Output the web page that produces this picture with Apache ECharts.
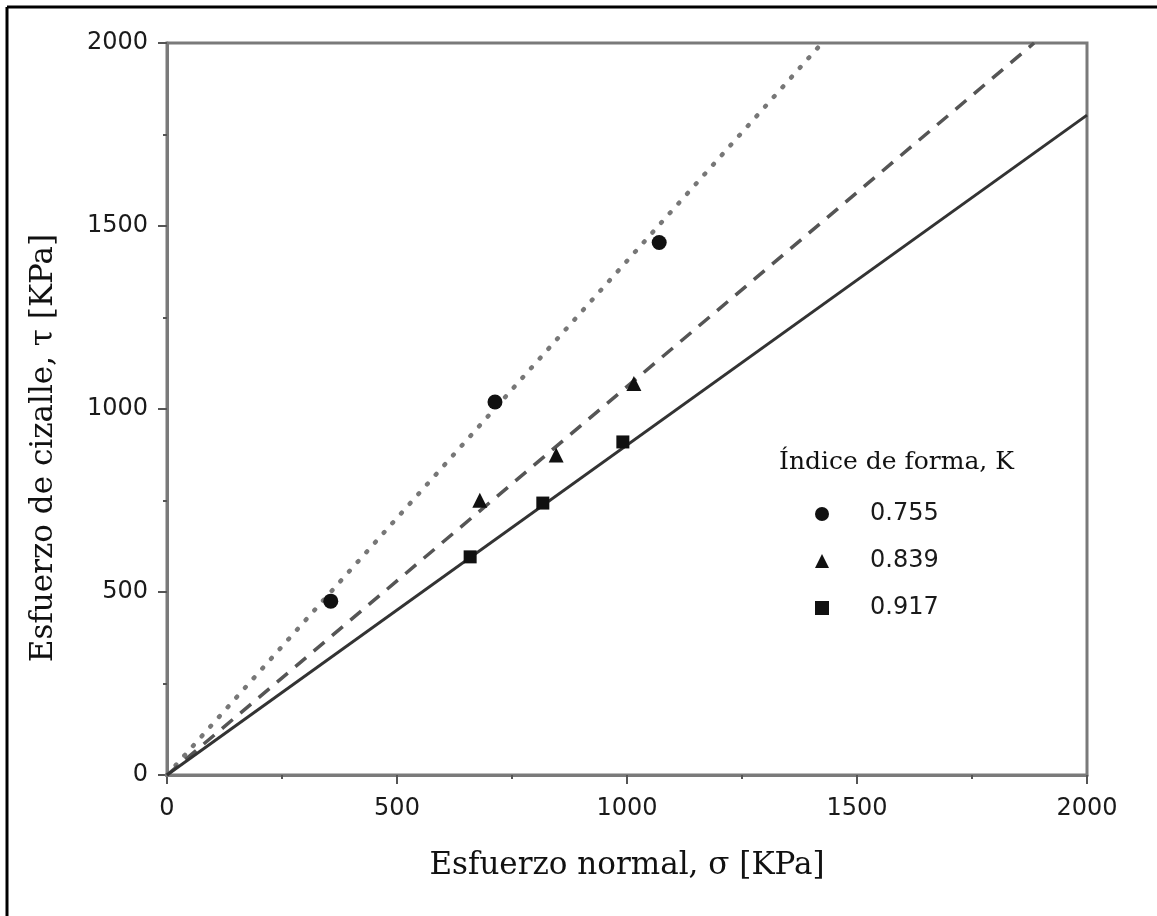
<!DOCTYPE html>
<html>
<head>
<meta charset="utf-8">
<script src="https://cdn.jsdelivr.net/npm/echarts@6/dist/echarts.min.js"></script>
<style>html,body{margin:0;padding:0;background:#fff}#c{width:1157px;height:916px}</style>
</head>
<body>
<div id="c"></div>
<script>
const xTicks = [0, 500, 1000, 1500, 2000];
const yTicks = [0, 500, 1000, 1500, 2000];
const seriesNames = ['0.755', '0.839', '0.917'];
const pts0755 = [[356, 475], [713, 1019], [1070, 1455]];
const pts0839 = [[680, 751], [846, 874], [1015, 1070]];
const pts0917 = [[659, 596], [817, 743], [991, 910]];
const fit0755 = [[0, 0], [1424, 2000]];
const fit0839 = [[0, 0], [1885, 2000]];
const fit0917 = [[0, 0], [2000, 1803]];
const xTitle = 'Esfuerzo normal, σ [KPa]';
const yTitle = 'Esfuerzo de cizalle, τ [KPa]';
const legendTitle = 'Índice de forma, K';

const chart = echarts.init(document.getElementById('c'));
const serif = '"DejaVu Serif", "Liberation Serif", serif';
const sans = '"DejaVu Sans", sans-serif';
const axisCommon = {
  min: 0, max: 2000, interval: 500,
  axisLine: {show: true, lineStyle: {color: '#7a7a7a', width: 3}},
  axisTick: {show: true, length: 9, lineStyle: {color: '#555', width: 2}},
  minorTick: {show: true, splitNumber: 2, length: 4, lineStyle: {color: '#555', width: 2}},
  splitLine: {show: false},
  axisLabel: {color: '#1a1a1a', fontFamily: sans, fontSize: 24}
};
chart.setOption({
  animation: false,
  backgroundColor: '#fff',
  grid: {left: 167, right: 70, top: 43, bottom: 141, show: true, borderColor: '#7a7a7a', borderWidth: 3},
  xAxis: Object.assign({}, axisCommon, {
    type: 'value',
    axisLabel: Object.assign({}, axisCommon.axisLabel, {margin: 22, formatter: v => xTicks.includes(v) ? String(v) : ''}),
    name: xTitle, nameLocation: 'middle', nameGap: 75,
    nameTextStyle: {fontFamily: serif, fontSize: 31, color: '#111'}
  }),
  yAxis: Object.assign({}, axisCommon, {
    type: 'value',
    axisLabel: Object.assign({}, axisCommon.axisLabel, {margin: 19, formatter: v => yTicks.includes(v) ? String(v) : ''})
  }),
  legend: {
    orient: 'vertical', left: 810, top: 497,
    data: seriesNames,
    itemWidth: 14, itemHeight: 14, itemGap: 23,
    textStyle: {fontFamily: sans, fontSize: 24, color: '#1a1a1a', padding: [0, 0, 0, 36], lineHeight: 24}
  },
  graphic: [
    {type: 'text', left: 779, top: 450, style: {text: legendTitle, font: '25px ' + serif, fill: '#111'}},
    {type: 'text', x: 44, y: 448, rotation: Math.PI / 2, style: {text: yTitle, font: '31px ' + serif, fill: '#111', textAlign: 'center', textVerticalAlign: 'middle'}},
    {type: 'line', shape: {x1: 7, y1: 7, x2: 1157, y2: 7}, style: {stroke: '#000', lineWidth: 3}},
    {type: 'line', shape: {x1: 7, y1: 7, x2: 7, y2: 916}, style: {stroke: '#000', lineWidth: 3}}
  ],
  series: [
    {type: 'line', data: fit0755, showSymbol: false, silent: true, lineStyle: {color: '#777', width: 4.5, type: [1, 12], cap: 'round'}, z: 2},
    {type: 'line', data: fit0839, showSymbol: false, silent: true, lineStyle: {color: '#555', width: 3.5, type: [14, 10]}, z: 2},
    {type: 'line', data: fit0917, showSymbol: false, silent: true, lineStyle: {color: '#333', width: 3}, z: 2},
    {name: seriesNames[0], type: 'scatter', data: pts0755, symbol: 'circle', symbolSize: 15, itemStyle: {color: '#111', opacity: 1}, z: 3},
    {name: seriesNames[1], type: 'scatter', data: pts0839, symbol: 'triangle', symbolSize: 15, itemStyle: {color: '#111', opacity: 1}, z: 3},
    {name: seriesNames[2], type: 'scatter', data: pts0917, symbol: 'rect', symbolSize: 13, itemStyle: {color: '#111', opacity: 1}, z: 3}
  ]
});
</script>
</body>
</html>
